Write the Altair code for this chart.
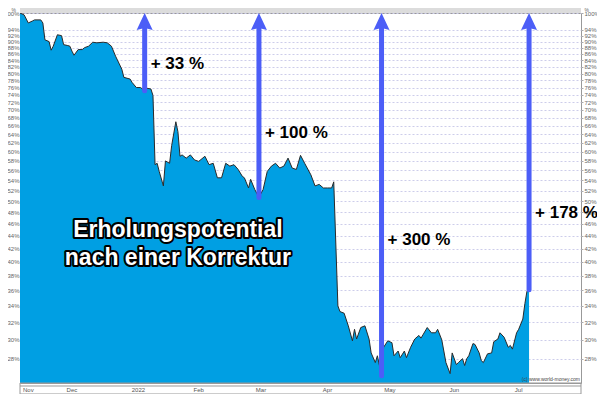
import altair as alt
import pandas as pd

# ---------------- data ----------------
dates = [
    "2021-11-19", "2021-11-21", "2021-11-23", "2021-11-25", "2021-11-26", "2021-11-29", "2021-11-30",
    "2021-12-01", "2021-12-03", "2021-12-04", "2021-12-05", "2021-12-07", "2021-12-09", "2021-12-10",
    "2021-12-12", "2021-12-13", "2021-12-14", "2021-12-15", "2021-12-17", "2021-12-19", "2021-12-20",
    "2021-12-22", "2021-12-24", "2021-12-26", "2021-12-29", "2021-12-31",
    "2022-01-02", "2022-01-04", "2022-01-07", "2022-01-08", "2022-01-11", "2022-01-12", "2022-01-14",
    "2022-01-16", "2022-01-18", "2022-01-19", "2022-01-21", "2022-01-22", "2022-01-23", "2022-01-24",
    "2022-01-25", "2022-01-27", "2022-01-28", "2022-01-30", "2022-01-31",
    "2022-02-02", "2022-02-03", "2022-02-04", "2022-02-05", "2022-02-07", "2022-02-09", "2022-02-11",
    "2022-02-13", "2022-02-16", "2022-02-18", "2022-02-20", "2022-02-22", "2022-02-24", "2022-02-26",
    "2022-02-28",
    "2022-03-02", "2022-03-04", "2022-03-06", "2022-03-07", "2022-03-09", "2022-03-10", "2022-03-12",
    "2022-03-14", "2022-03-16", "2022-03-18", "2022-03-20", "2022-03-22", "2022-03-24", "2022-03-26",
    "2022-03-28", "2022-03-30",
    "2022-04-01", "2022-04-03", "2022-04-05", "2022-04-08", "2022-04-10", "2022-04-12", "2022-04-14",
    "2022-04-16", "2022-04-18", "2022-04-19", "2022-04-21", "2022-04-22", "2022-04-24", "2022-04-26",
    "2022-04-28", "2022-04-29", "2022-04-30",
    "2022-05-02", "2022-05-04", "2022-05-06", "2022-05-07", "2022-05-09", "2022-05-10", "2022-05-11",
    "2022-05-12", "2022-05-13", "2022-05-15", "2022-05-17", "2022-05-18", "2022-05-20", "2022-05-21",
    "2022-05-23", "2022-05-24", "2022-05-26", "2022-05-28", "2022-05-30", "2022-05-31",
    "2022-06-03", "2022-06-05", "2022-06-07", "2022-06-08", "2022-06-10", "2022-06-12", "2022-06-14",
    "2022-06-15", "2022-06-17", "2022-06-18", "2022-06-20", "2022-06-21", "2022-06-22", "2022-06-23",
    "2022-06-25", "2022-06-26", "2022-06-28", "2022-06-29", "2022-06-30",
    "2022-07-02", "2022-07-04", "2022-07-05", "2022-07-07", "2022-07-08", "2022-07-10", "2022-07-12",
    "2022-07-13", "2022-07-14", "2022-07-16", "2022-07-17", "2022-07-19", "2022-07-20", "2022-07-21",
    "2022-07-22",
]
values = [
    100.0, 99.3, 96.4, 97.1, 97.5, 97.5, 96.4,
    90.6, 90.0, 87.2, 88.5, 92.3, 92.0, 89.0,
    88.7, 88.5, 86.9, 85.6, 87.4, 87.4, 88.0,
    88.5, 89.8, 89.6, 89.8, 89.6,
    88.5, 85.3, 81.3, 78.9, 78.4, 77.4, 76.0,
    76.0, 75.1, 75.8, 75.6, 73.8, 57.2, 57.5,
    55.8, 52.9, 58.0, 57.5, 61.4,
    67.0, 64.6, 59.0, 59.3, 58.6, 59.3, 58.2,
    57.9, 59.0, 57.2, 57.5, 54.5, 54.5, 57.5,
    56.9,
    57.2, 56.2, 54.8, 54.5, 52.5, 54.2, 52.2,
    50.7, 52.2, 55.8, 56.9, 57.5, 56.5, 56.9,
    58.6, 56.5,
    56.2, 59.2, 57.5, 55.1, 52.9, 53.2, 52.5,
    52.5, 52.5, 53.7, 34.0, 33.3, 33.1, 31.6,
    29.9, 31.2, 30.1,
    31.4, 31.6, 30.1, 28.6, 27.6, 28.3, 27.3,
    26.3, 29.2, 29.9, 29.7, 28.3, 28.8, 28.1,
    28.8, 28.1, 29.2, 30.1, 30.5, 30.2,
    31.4, 30.8, 30.8, 31.2, 30.0, 27.6, 26.5,
    28.6, 27.4, 27.6, 28.0, 27.3, 28.0, 28.3,
    29.6, 29.5, 28.6, 27.8, 27.6,
    28.5, 28.6, 29.8, 30.1, 30.8, 30.3, 29.2,
    29.4, 29.0, 30.8, 31.2, 32.4, 34.3, 35.9,
    36.1,
]

arrow_dates = ["2022-01-18", "2022-03-14", "2022-05-12", "2022-07-22"]
arrow_lows = [75.1, 50.7, 26.3, 36.1]
arrow_tops = [100, 100, 100, 100]
arrow_labels = ["+ 33 %", "+ 100 %", "+ 300 %", "+ 178 %"]
arrow_label_levels = [82.9, 64.3, 43.3, 47.9]

month_starts = ["2021-12-01", "2022-01-01", "2022-02-01", "2022-03-01", "2022-04-01",
                "2022-05-01", "2022-06-01", "2022-07-01", "2022-08-01"]
month_names = ["Nov", "Dec", "2022", "Feb", "Mar", "Apr", "May", "Jun", "Jul"]
month_label_dates = ["2021-11-23", "2021-12-14", "2022-01-15", "2022-02-13", "2022-03-15",
                     "2022-04-16", "2022-05-16", "2022-06-16", "2022-07-17"]

y_ticks = [100, 94, 92, 90, 88, 86, 84, 82, 80, 78, 76, 74, 72, 70, 68, 66, 64, 62, 60,
           58, 56, 54, 52, 50, 48, 46, 44, 42, 40, 38, 36, 34, 32, 30, 28]

big_text_lines = ["Erholungspotential", "nach einer Korrektur"]
big_text_dates = ["2022-02-03", "2022-02-03"]
big_text_levels = [45.0, 40.6]

x_domain = ["2021-11-19", "2022-08-16"]
y_domain = [25.6, 100]

copyright_text = "(c) www.world-money.com"

# ---------------- styling ----------------
W, H = 561, 370
STRIP = 11
AREA = "#009fe3"
ARROW = "#4c5ef7"
GRID = "#cdcdea"
FONT = "Liberation Sans"


def dt(s):
    y, m, d = (int(p) for p in s.split("-"))
    return alt.DateTime(year=y, month=m, date=d, utc=True)


xscale = alt.Scale(type="utc", domain=[dt(x_domain[0]), dt(x_domain[1])])
yscale = alt.Scale(type="log", domain=y_domain, nice=False, zero=False)

df = pd.DataFrame({"date": dates, "value": values})
arrows_df = pd.DataFrame({"date": arrow_dates, "low": arrow_lows, "top": arrow_tops,
                          "label": arrow_labels, "level": arrow_label_levels})
months_df = pd.DataFrame({"date": month_label_dates, "name": month_names})
big_df = pd.DataFrame({"date": big_text_dates, "level": big_text_levels, "text": big_text_lines})
one = pd.DataFrame({"k": [0]})

xn = alt.X("date:T", scale=xscale, axis=None)

area = alt.Chart(df).mark_area(color=AREA, clip=True, opacity=1).encode(
    x=alt.X("date:T", scale=xscale, axis=alt.Axis(
        values=[dt(s) for s in month_starts], labels=False, title=None, grid=True,
        gridColor=GRID, gridDash=[2, 2], tickSize=STRIP, tickColor="#999", domainColor="#999")),
    y=alt.Y("value:Q", scale=yscale, stack=None, axis=alt.Axis(
        orient="left", values=y_ticks, labelExpr="datum.value + '%'", labelFontSize=6,
        labelColor="#666", labelFont=FONT, tickSize=0, domain=False, grid=True, gridColor=GRID,
        gridDash=[2, 2], labelPadding=1, labelOverlap=False, labelBound=False,
        title="%", titleAngle=0, titleFontSize=5, titleFontWeight="normal", titleColor="#666",
        titleX=-9, titleY=-1, titleAlign="left", titleBaseline="bottom")),
    y2=alt.datum(y_domain[0]),
)

line = alt.Chart(df).mark_line(color="#2a2a2a", strokeWidth=1, clip=True).encode(
    x=xn,
    y=alt.Y("value:Q", scale=yscale, axis=alt.Axis(
        orient="right", values=y_ticks, labelExpr="datum.value + '%'", labelFontSize=6,
        labelColor="#666", labelFont=FONT, tickSize=2, tickColor="#aaa", domain=False,
        grid=False, labelPadding=1, labelOverlap=False, labelBound=False,
        title="%", titleAngle=0, titleFontSize=5, titleFontWeight="normal", titleColor="#666",
        titleX=3, titleY=-1, titleAlign="left", titleBaseline="bottom")),
)

shafts = alt.Chart(arrows_df).mark_rule(color=ARROW, strokeWidth=5, strokeCap="round",
                                        y2Offset=12).encode(
    x=xn,
    y=alt.Y("low:Q", scale=yscale, axis=None),
    y2="top:Q",
)

heads = alt.Chart(arrows_df).mark_point(
    shape="M0,0L0.94,2L0,1.75L-0.94,2Z", size=289, filled=True, color=ARROW, opacity=1,
    strokeWidth=0).encode(
    x=xn,
    y=alt.Y("top:Q", scale=yscale, axis=None),
)

labels = alt.Chart(arrows_df).mark_text(
    align="left", baseline="middle", dx=6, fontSize=17, fontWeight="bold", font=FONT,
    color="black").encode(
    x=xn,
    y=alt.Y("level:Q", scale=yscale, axis=None),
    text="label:N",
)

big_outline = alt.Chart(big_df).mark_text(
    align="center", baseline="middle", fontSize=23, fontWeight="bold", font=FONT,
    fill="white", stroke="black", strokeWidth=4, strokeJoin="round").encode(
    x=xn, y=alt.Y("level:Q", scale=yscale, axis=None), text="text:N")

big_fill = alt.Chart(big_df).mark_text(
    align="center", baseline="middle", fontSize=23, fontWeight="bold", font=FONT,
    fill="white").encode(
    x=xn, y=alt.Y("level:Q", scale=yscale, axis=None), text="text:N")

strip_box = alt.Chart(one).mark_rect(fill="white", fillOpacity=0, stroke="#999",
                                     strokeWidth=1).encode(
    x=alt.value(0), x2=alt.value(W), y=alt.value(H), y2=alt.value(H + STRIP))

strip_rule = alt.Chart(one).mark_rule(color="#999", strokeWidth=1).encode(
    x=alt.value(0), x2=alt.value(W), y=alt.value(H + 3))

month_text = alt.Chart(months_df).mark_text(
    fontSize=6, color="#555", font=FONT, baseline="middle").encode(
    x=xn, y=alt.value(H + 7), text="name:N")

band = alt.Chart(one).mark_rect(color="#dcdcdc").encode(
    x=alt.value(0), x2=alt.value(W), y=alt.value(-5), y2=alt.value(0))

copyright_mark = alt.Chart(one).mark_text(
    text=copyright_text, fontSize=5, color="#444", font=FONT, align="right",
    baseline="bottom").encode(x=alt.value(W - 1), y=alt.value(H - 1))

chart = alt.layer(
    area, line, shafts, heads, labels, big_outline, big_fill,
    strip_box, strip_rule, month_text, band, copyright_mark,
).resolve_axis(y="independent").properties(
    width=W, height=H,
    autosize=alt.AutoSizeParams(type="none"),
    padding={"left": 12, "top": 5, "right": 16, "bottom": STRIP},
    background="white",
).configure_view(stroke="#999", strokeWidth=1)

chart.save("out.html", embed_options={"renderer": "svg", "actions": False})
